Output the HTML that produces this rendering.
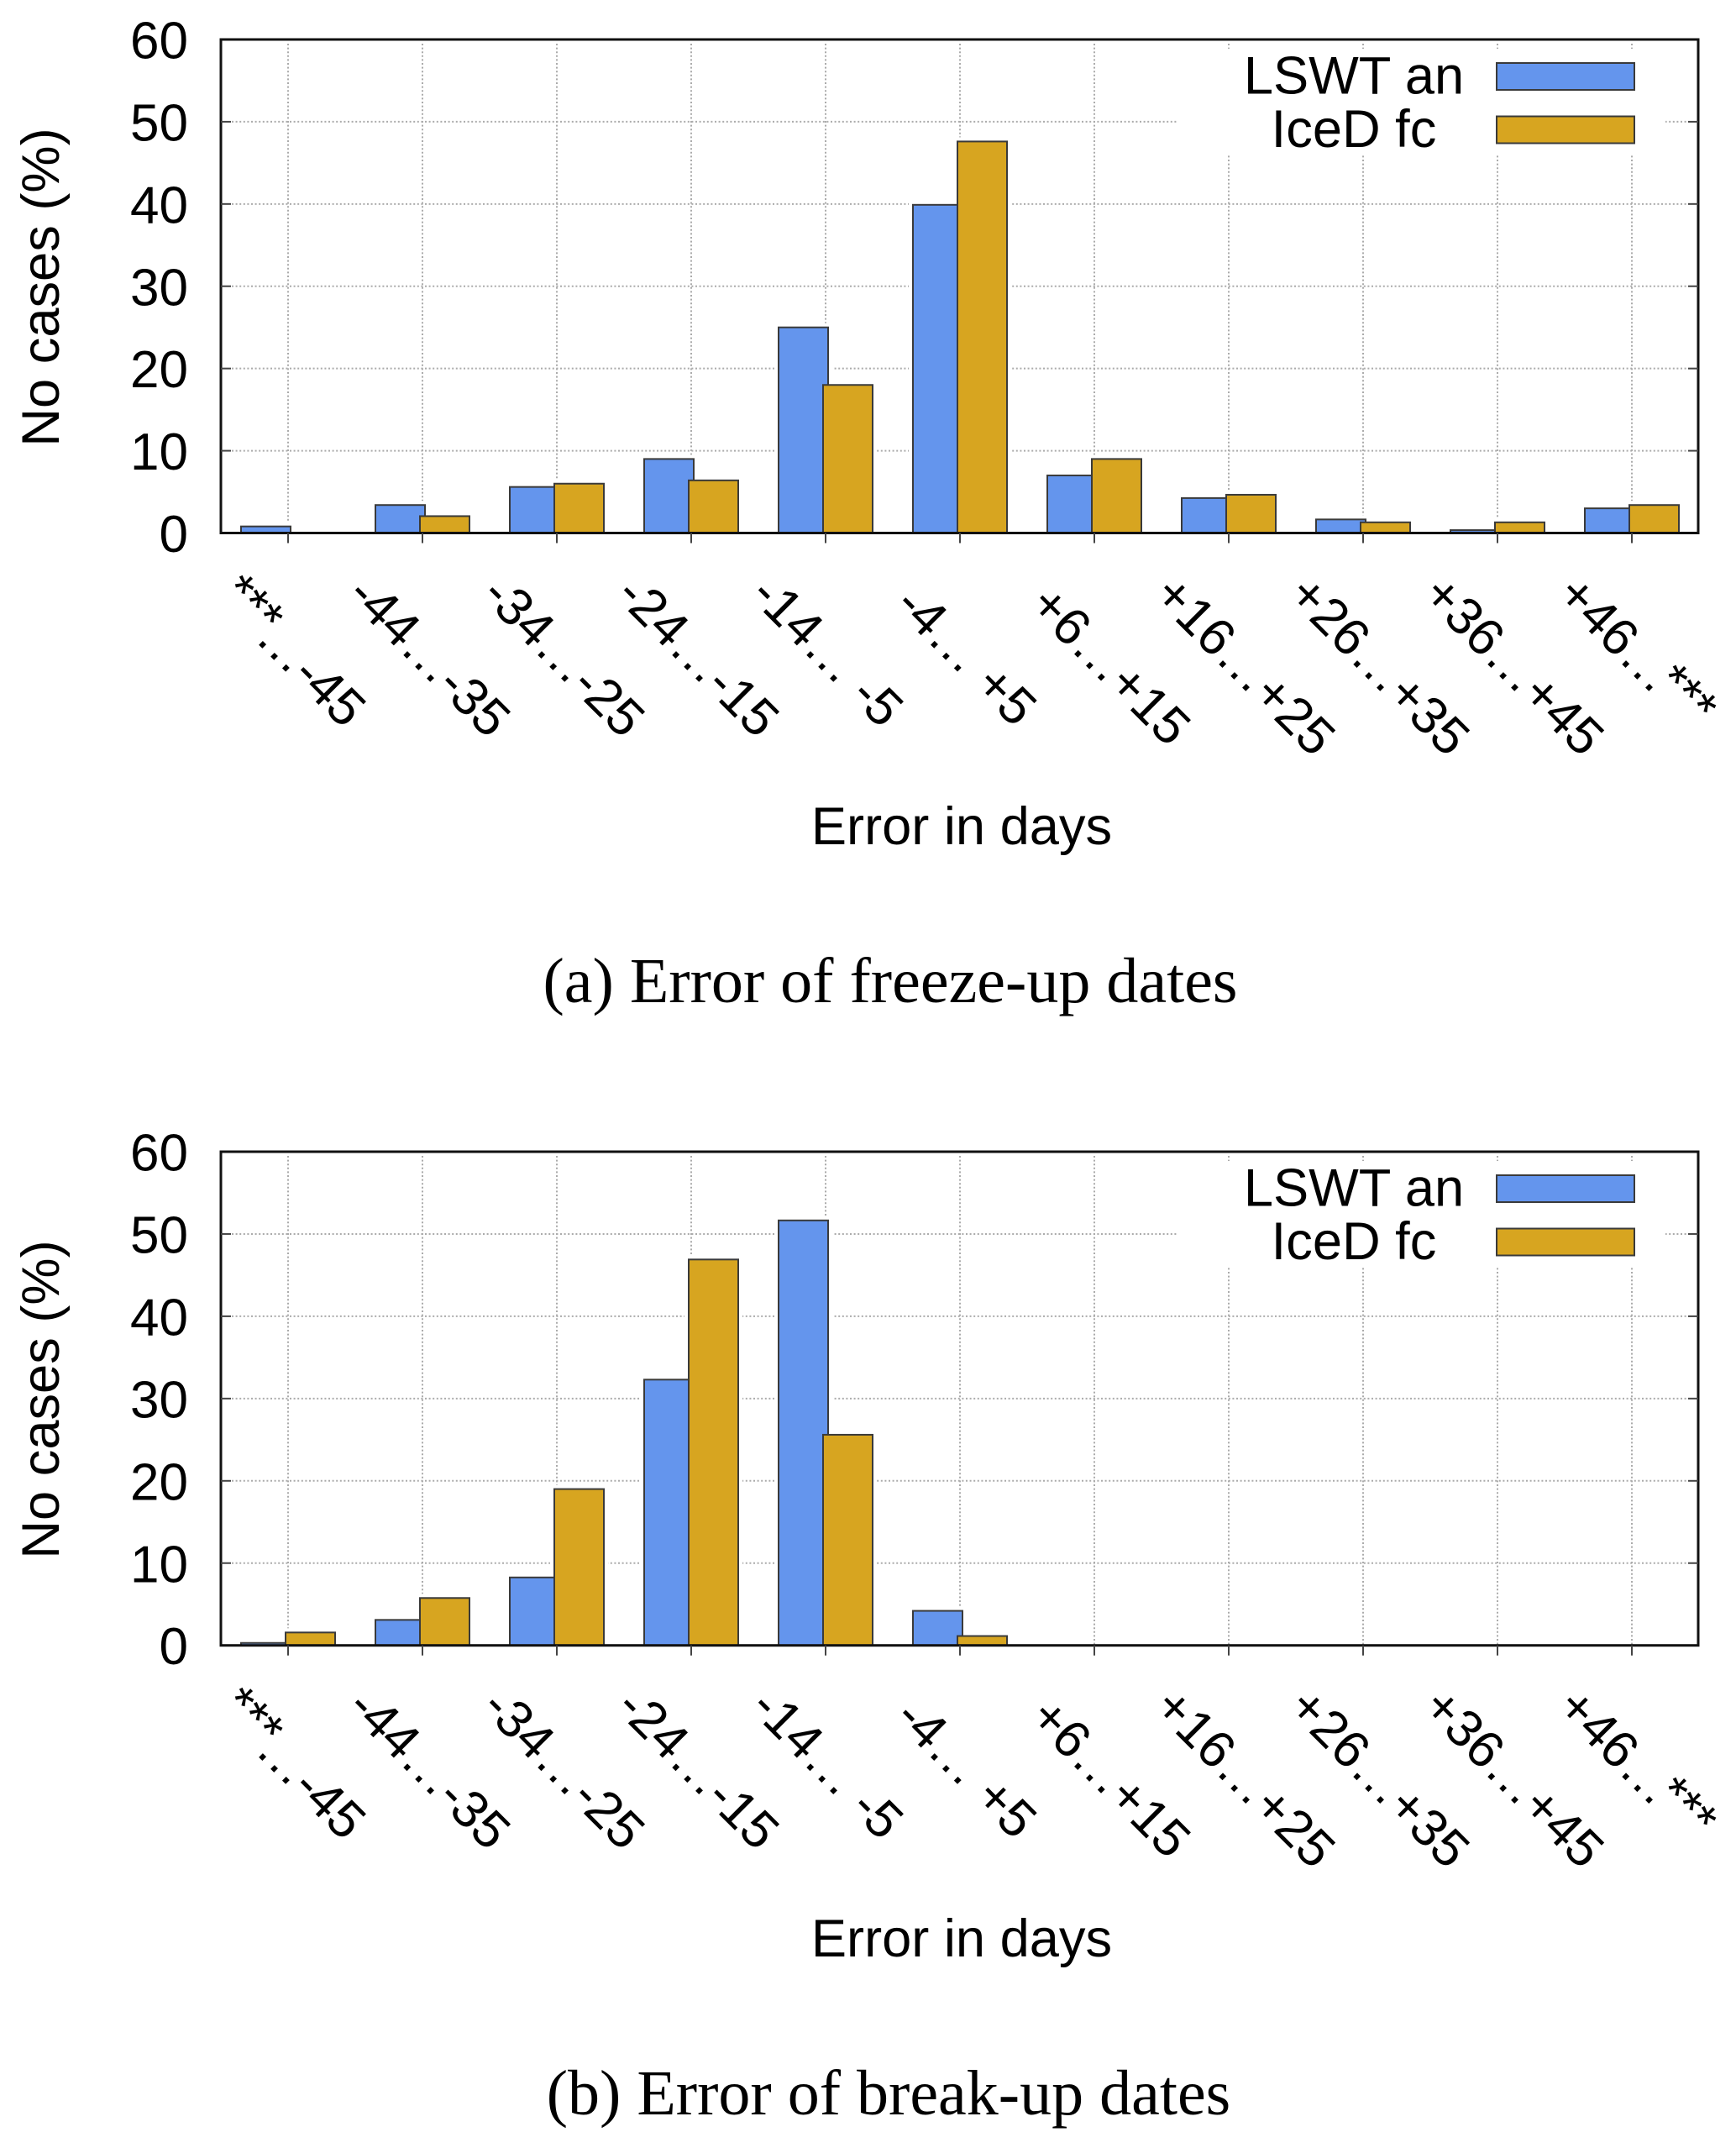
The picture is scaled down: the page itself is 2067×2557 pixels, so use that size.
<!DOCTYPE html>
<html lang="en">
<head>
<meta charset="utf-8">
<title>Error of freeze-up and break-up dates</title>
<style>
html,body{margin:0;padding:0;background:#fff;width:2067px;height:2557px;overflow:hidden}
svg{position:absolute;left:0;top:0;display:block}
text{fill:#000}
.sans{font-family:"Liberation Sans",sans-serif;font-size:62px}
.title{font-family:"Liberation Sans",sans-serif;font-size:63.2px}
.serif{font-family:"Liberation Serif",serif;font-size:76px}
</style>
</head>
<body>
<svg id="figure" width="2067" height="2557" viewBox="0 0 2067 2557" xmlns="http://www.w3.org/2000/svg">
  <rect x="0" y="0" width="2067" height="2557" fill="#fff"/>

  <g id="panel-a">
    <g id="panel-a-grid"></g>
    <rect x="1402" y="58" width="581" height="127" fill="#fff"/>
    <g id="panel-a-bars"></g>
    <g id="panel-a-axes"></g>
    <text class="title" text-anchor="middle" transform="translate(70 342) rotate(-90)">No cases (%)</text>
    <text class="title" text-anchor="middle" x="1145" y="1005">Error in days</text>
    <g>
      <text class="title" text-anchor="middle" x="1612" y="111.5">LSWT an</text>
      <rect x="1782" y="75" width="164" height="32" fill="#6495ed" stroke="#3a3a3a" stroke-width="2"/>
      <text class="title" text-anchor="middle" x="1612" y="175">IceD fc</text>
      <rect x="1782" y="138.5" width="164" height="32" fill="#d7a520" stroke="#3a3a3a" stroke-width="2"/>
    </g>
    <text class="serif" text-anchor="middle" x="1060" y="1193">(a) Error of freeze-up dates</text>
  </g>

  <g id="panel-b">
    <g id="panel-b-grid"></g>
    <rect x="1402" y="1382" width="581" height="127" fill="#fff"/>
    <g id="panel-b-bars"></g>
    <g id="panel-b-axes"></g>
    <text class="title" text-anchor="middle" transform="translate(70 1666) rotate(-90)">No cases (%)</text>
    <text class="title" text-anchor="middle" x="1145" y="2329">Error in days</text>
    <g>
      <text class="title" text-anchor="middle" x="1612" y="1435.5">LSWT an</text>
      <rect x="1782" y="1399" width="164" height="32" fill="#6495ed" stroke="#3a3a3a" stroke-width="2"/>
      <text class="title" text-anchor="middle" x="1612" y="1499">IceD fc</text>
      <rect x="1782" y="1462.5" width="164" height="32" fill="#d7a520" stroke="#3a3a3a" stroke-width="2"/>
    </g>
    <text class="serif" text-anchor="middle" x="1058" y="2517">(b) Error of break-up dates</text>
  </g>
</svg>

<script>
const categories = ["***…-45", "-44…-35", "-34…-25", "-24…-15", "-14… -5", "\u00a0-4… +5", "\u00a0+6…+15", "+16…+25", "+26…+35", "+36…+45", "+46…***"];
const yTickLabels = [0, 10, 20, 30, 40, 50, 60];

const freezeLswt = [0.8, 3.4, 5.6, 9, 25, 39.9, 7, 4.25, 1.65, 0.35, 3];
const freezeIced = [0, 2.05, 6, 6.4, 18, 47.6, 9, 4.65, 1.3, 1.3, 3.4];

const breakLswt = [0.3, 3.1, 8.26, 32.3, 51.65, 4.2, 0, 0, 0, 0, 0];
const breakIced = [1.57, 5.76, 19, 46.9, 25.6, 1.14, 0, 0, 0, 0, 0];

const SVGNS = "http://www.w3.org/2000/svg";
const LEFT = 263;
const RIGHT = 2022;
const FIRST_TICK = 343;
const STEP = 160;
const BAR_W = 59;
const Y_MAX = 60;

function mk(parent, tag, attrs) {
  const el = document.createElementNS(SVGNS, tag);
  for (const k in attrs) el.setAttribute(k, attrs[k]);
  parent.appendChild(el);
  return el;
}

function xScale(i) {
  return FIRST_TICK + i * STEP;
}

function fillTickLabel(lab, text) {
  if (text.indexOf("***") === 0) {
    const stars = mk(lab, "tspan", {dx: 6, dy: -8});
    stars.textContent = "***";
    const rest = mk(lab, "tspan", {dx: -6, dy: 8});
    rest.textContent = text.slice(3);
  } else if (text.indexOf("***") > 0) {
    const head = mk(lab, "tspan", {});
    head.textContent = text.slice(0, text.indexOf("***"));
    const stars = mk(lab, "tspan", {dx: -10, dy: -8});
    stars.textContent = "***";
  } else {
    lab.textContent = text;
  }
}

function drawPanel(id, top, bottom, lswt, iced) {
  const yScale = function (v) {
    return bottom - (v / Y_MAX) * (bottom - top);
  };
  const grid = document.getElementById(id + "-grid");
  const bars = document.getElementById(id + "-bars");
  const axes = document.getElementById(id + "-axes");

  yTickLabels.forEach(function (t) {
    if (t === 0 || t === Y_MAX) return;
    const gl = mk(grid, "line", {x1: LEFT + 13, x2: RIGHT - 12, y1: yScale(t), y2: yScale(t), stroke: "#ababab", "stroke-width": 2, "stroke-dasharray": "2 2.6"});
    
    
  });
  categories.forEach(function (c, i) {
    const gl = mk(grid, "line", {x1: xScale(i), x2: xScale(i), y1: top + 5, y2: bottom, stroke: "#ababab", "stroke-width": 2, "stroke-dasharray": "2 2.6"});
    
    
  });

  categories.forEach(function (c, i) {
    const tick = xScale(i);
    if (lswt[i] > 0) {
      const halo = mk(bars, "rect", {x: tick - 56 - 5, y: yScale(lswt[i]) - 5, width: BAR_W + 10, height: bottom - yScale(lswt[i]) + 5, fill: "#fff"});
      
      
    }
    if (iced[i] > 0) {
      const halo = mk(bars, "rect", {x: tick - 3 - 5, y: yScale(iced[i]) - 5, width: BAR_W + 10, height: bottom - yScale(iced[i]) + 5, fill: "#fff"});
      
      
    }
  });
  categories.forEach(function (c, i) {
    const tick = xScale(i);
    const b1 = mk(bars, "rect", {x: tick - 56, y: yScale(lswt[i]), width: BAR_W, height: bottom - yScale(lswt[i]), fill: "#6495ed", stroke: "#3a3a3a", "stroke-width": 2});
    
    
    const b2 = mk(bars, "rect", {x: tick - 3, y: yScale(iced[i]), width: BAR_W, height: bottom - yScale(iced[i]), fill: "#d7a520", stroke: "#3a3a3a", "stroke-width": 2});
    
    
  });

  const frame = mk(axes, "rect", {x: LEFT, y: top, width: RIGHT - LEFT, height: bottom - top, fill: "none", stroke: "#111", "stroke-width": 3});
  
  

  yTickLabels.forEach(function (t) {
    const y = yScale(t);
    const lab = mk(axes, "text", {x: 224, y: y + 22.5, "text-anchor": "end", "class": "sans"});
    lab.textContent = String(t);
    
    
    if (t === 0 || t === Y_MAX) return;
    const tl = mk(axes, "line", {x1: LEFT, x2: LEFT + 12, y1: y, y2: y, stroke: "#444", "stroke-width": 2});
    
    
    const tr = mk(axes, "line", {x1: RIGHT - 12, x2: RIGHT, y1: y, y2: y, stroke: "#444", "stroke-width": 2});
    
    
  });

  categories.forEach(function (c, i) {
    const x = xScale(i);
    const tk = mk(axes, "line", {x1: x, x2: x, y1: bottom, y2: bottom + 12, stroke: "#444", "stroke-width": 2});
    
    
    const lab = mk(axes, "text", {"class": "sans", transform: "translate(" + (x - 92) + " " + (bottom + 76) + ") rotate(45)", x: 0, y: 0});
    fillTickLabel(lab, c);
    
    
  });
}

drawPanel("panel-a", 47, 634.5, freezeLswt, freezeIced);
drawPanel("panel-b", 1371, 1958.7, breakLswt, breakIced);
</script>
</body>
</html>
